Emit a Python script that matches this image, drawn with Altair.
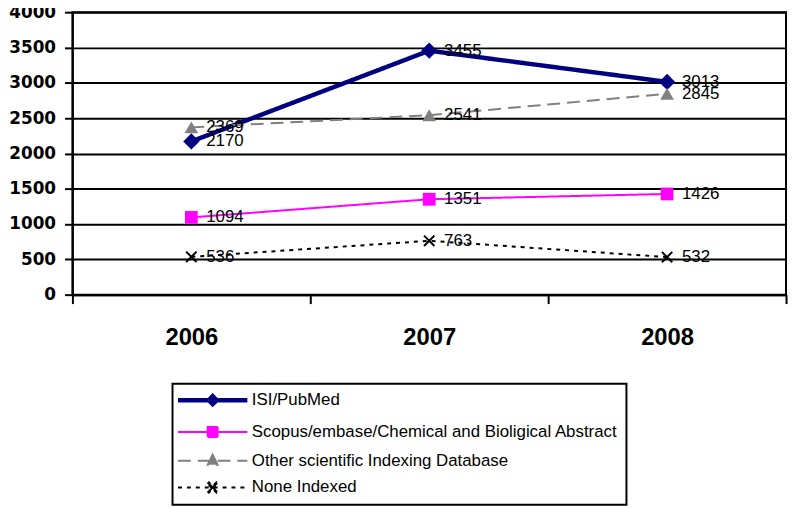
import altair as alt
import pandas as pd

years = ["2006", "2007", "2008"]
series_names = [
    "ISI/PubMed",
    "Scopus/embase/Chemical and Bioligical Abstract",
    "Other scientific Indexing Database",
    "None Indexed",
]
isi = [2170, 3455, 3013]
scopus = [1094, 1351, 1426]
other = [2369, 2541, 2845]
none_indexed = [536, 763, 532]

colors = ["#000080", "#FF00FF", "#808080", "#000000"]
dashes = [[1, 0], [1, 0], [13, 7], [4, 5]]
widths = [4.5, 2, 2, 2]
y_ticks = [0, 500, 1000, 1500, 2000, 2500, 3000, 3500, 4000]

rows = []
for name, vals in zip(series_names, [isi, scopus, other, none_indexed]):
    for yr, v in zip(years, vals):
        rows.append({"year": yr, "value": v, "series": name})
df = pd.DataFrame(rows)

# legend symbols: line + marker drawn as a single custom path
legend_paths = [
    "M-2.75,0H14.75M6,-1L7,0L6,1L5,0Z",
    "M-2.75,0H14.75M4.75,-1.25H7.25V1.25H4.75Z",
    "M-2.75,0H14.75M6,-1.5L7.25,1L4.75,1Z",
    "M-2.75,0H14.75M4.7,-0.95L5.05,-1.3L6,-0.35L6.95,-1.3L7.3,-0.95L6.35,0L7.3,0.95L6.95,1.3L6,0.35L5.05,1.3L4.7,0.95L5.65,0Z",
]

x_enc = alt.X("year:N", sort=years, title=None,
              scale=alt.Scale(paddingInner=0, paddingOuter=0),
              axis=alt.Axis(labelAngle=0, labelFont="Liberation Sans", labelFontSize=24,
                            labelFontWeight="bold", labelColor="black", labelPadding=22,
                            tickBand="extent", tickSize=9, tickColor="black", tickWidth=2,
                            domainColor="black", domainWidth=2, grid=False))
y_enc = alt.Y("value:Q", title=None,
              scale=alt.Scale(domain=[0, 4000], nice=False),
              axis=alt.Axis(values=y_ticks, format="d", labelFont="DejaVu Sans", labelFontSize=17,
                            labelFontWeight="bold", labelColor="black", labelPadding=9,
                            tickSize=8, tickColor="black", tickWidth=2,
                            domainColor="black", domainWidth=2,
                            grid=True, gridColor="black", gridWidth=2))

color_scale = alt.Scale(domain=series_names, range=colors)
dash_scale = alt.Scale(domain=series_names, range=dashes)
width_scale = alt.Scale(type="ordinal", domain=series_names, range=widths)

base = alt.Chart(df)

line_layers = []
for name, c, d, w in zip(series_names, colors, dashes, widths):
    line_layers.append(
        base.transform_filter(alt.datum.series == name)
        .mark_line(color=c, strokeDash=d, strokeWidth=w)
        .encode(x=x_enc, y=y_enc)
    )

pt_specs = [
    (series_names[0], dict(shape="diamond", size=270, filled=True, color=colors[0])),
    (series_names[1], dict(shape="square", size=165, filled=True, color=colors[1])),
    (series_names[2], dict(shape="triangle-up", size=190, filled=True, color=colors[2])),
    (series_names[3], dict(shape="M-1,-1L1,1M1,-1L-1,1", size=110, filled=False,
                           color=colors[3], strokeWidth=2)),
]
point_layers = []
for name, props in pt_specs:
    point_layers.append(
        base.transform_filter(alt.datum.series == name)
        .mark_point(opacity=1, **props)
        .encode(x=x_enc, y=y_enc)
    )

labels = base.mark_text(align="left", baseline="middle", dx=15,
                        font="Liberation Sans", fontSize=17,
                        color="black").encode(
    x=x_enc, y=y_enc, text="value:Q")

legend_layer = base.transform_filter("false").mark_point(filled=True, opacity=1).encode(
    x=x_enc, y=y_enc,
    color=alt.Color("series:N", scale=color_scale,
                    legend=alt.Legend(title=None, orient="none", legendX=101, legendY=375,
                                      direction="vertical")),
    stroke=alt.Stroke("series:N", scale=alt.Scale(domain=series_names, range=colors)),
    shape=alt.Shape("series:N", scale=alt.Scale(domain=series_names, range=legend_paths)),
    strokeDash=alt.StrokeDash("series:N", scale=dash_scale),
    strokeWidth=alt.StrokeWidth("series:N", scale=width_scale),
)

chart = alt.layer(*line_layers, *point_layers, labels, legend_layer).properties(
    width=720, height=285,
    autosize=alt.AutoSizeParams(type="none"),
    padding={"left": 65, "top": 2, "right": 2, "bottom": 211},
).configure_view(
    stroke="black", strokeWidth=2
).configure_legend(
    strokeColor="black", strokeWidth=2, fillColor="white",
    padding=8, rowPadding=9, symbolSize=64, labelOffset=55,
    labelFont="Liberation Sans", labelFontSize=17, labelColor="black",
    labelLimit=0,
)

chart.save("out.html", embed_options={"renderer": "svg", "actions": False})
